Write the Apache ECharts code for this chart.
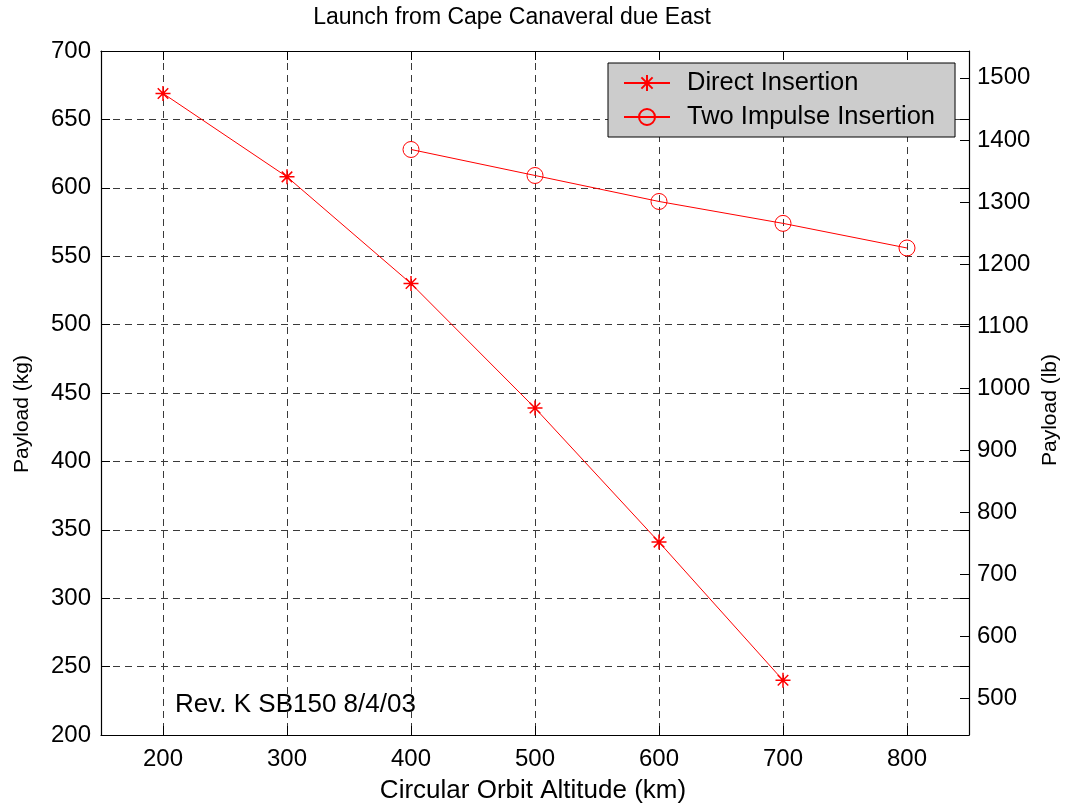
<!DOCTYPE html>
<html>
<head>
<meta charset="utf-8">
<title>Launch from Cape Canaveral due East</title>
<script src="https://cdn.jsdelivr.net/npm/echarts@6/dist/echarts.min.js"></script>
<style>
  html, body { margin: 0; padding: 0; background: #ffffff; }
  #chart { width: 1069px; height: 807px; }
</style>
</head>
<body>
<div id="chart"></div>
<script>
// Payload vs. circular orbit altitude
const directAltitudes = [200, 300, 400, 500, 600, 700];           // km
const directPayload = [669, 608, 530, 439, 341, 240];             // kg
const twoImpulseAltitudes = [400, 500, 600, 700, 800];            // km
const twoImpulsePayload = [628, 609, 590, 574, 556];              // kg
const seriesNames = ['Direct Insertion', 'Two Impulse Insertion'];

const KG_TO_LB = 2.2046226;
const kgMin = 200, kgMax = 700;
const FONT = '"Liberation Sans", Arial, Helvetica, sans-serif';
const GRID_COLOR = '#3a3a3a';
const GRID_DASH = [7, 5];

const pairs = (xs, ys) => xs.map((x, i) => [x, ys[i]]);

// eight-armed asterisk marker
const STAR = 'path://M0,-10L0,10M-10,0L10,0M-7,-7L7,7M-7,7L7,-7';

const chart = echarts.init(document.getElementById('chart'), null, { renderer: 'canvas' });

const axisLine = { show: true, lineStyle: { color: '#000', width: 1.2 } };
const tickIn = { show: true, inside: true, length: 9, lineStyle: { color: '#000', width: 1 } };
const labelStyle = { color: '#000', fontFamily: FONT, fontSize: 24 };
const plain = v => String(Math.round(v));

chart.setOption({
  backgroundColor: '#ffffff',
  animation: false,
  textStyle: { fontFamily: FONT },
  grid: { left: 101, right: 100, top: 51, bottom: 72, containLabel: false },
  legend: {
    data: seriesNames,
    orient: 'vertical',
    left: 608,
    top: 63,
    backgroundColor: '#cccccc',
    borderColor: '#000',
    borderWidth: 1,
    borderRadius: 0,
    padding: [7, 20, 7, 15],
    itemGap: 8,
    itemWidth: 46,
    itemHeight: 20,
    textStyle: { color: '#000', fontFamily: FONT, fontSize: 25.5, padding: [0, 0, 0, 12] }
  },
  xAxis: [
    {
      type: 'value', position: 'bottom',
      min: 150, max: 850, minInterval: 100, maxInterval: 100,
      axisLine, axisTick: tickIn,
      axisLabel: Object.assign({ margin: 12, showMinLabel: false, showMaxLabel: false, formatter: plain }, labelStyle),
      splitLine: { show: true, lineStyle: { color: GRID_COLOR, type: GRID_DASH, width: 1 } }
    },
    {
      type: 'value', position: 'top',
      min: 150, max: 850, minInterval: 100, maxInterval: 100,
      axisLine, axisTick: tickIn,
      axisLabel: { show: false }, splitLine: { show: false }
    }
  ],
  yAxis: [
    {
      type: 'value', position: 'left',
      min: kgMin, max: kgMax, interval: 50,
      axisLine, axisTick: tickIn,
      axisLabel: Object.assign({ margin: 10, formatter: plain }, labelStyle),
      splitLine: { show: true, lineStyle: { color: GRID_COLOR, type: GRID_DASH, width: 1 } }
    },
    {
      type: 'value', position: 'right',
      min: kgMin * KG_TO_LB, max: kgMax * KG_TO_LB, minInterval: 100, maxInterval: 100,
      axisLine, axisTick: tickIn,
      axisLabel: Object.assign({ margin: 8, showMinLabel: false, showMaxLabel: false, formatter: plain }, labelStyle),
      splitLine: { show: false }
    },
    {
      type: 'value', position: 'right', offset: 0,
      min: kgMin, max: kgMax, interval: 50,
      axisLine: { show: false }, axisTick: tickIn,
      axisLabel: { show: false }, splitLine: { show: false }
    }
  ],
  series: [
    {
      name: seriesNames[0],
      type: 'line',
      xAxisIndex: 0, yAxisIndex: 0,
      data: pairs(directAltitudes, directPayload),
      symbol: STAR, symbolSize: 15, symbolKeepAspect: true,
      showAllSymbol: true,
      lineStyle: { color: '#ff0000', width: 1 },
      itemStyle: { color: 'none', borderColor: '#ff0000', borderWidth: 1.5 },
      emphasis: { disabled: true }
    },
    {
      name: seriesNames[1],
      type: 'line',
      xAxisIndex: 0, yAxisIndex: 0,
      data: pairs(twoImpulseAltitudes, twoImpulsePayload),
      symbol: 'circle', symbolSize: 16,
      showAllSymbol: true,
      lineStyle: { color: '#ff0000', width: 1 },
      itemStyle: { color: 'none', borderColor: '#ff0000', borderWidth: 1 },
      emphasis: { disabled: true }
    }
  ],
  graphic: [
    {
      type: 'text', x: 512, y: 18,
      style: { text: 'Launch from Cape Canaveral due East', fontFamily: FONT, fontSize: 23,
               fill: '#000', align: 'center', verticalAlign: 'middle' }
    },
    {
      type: 'text', x: 533, y: 791,
      style: { text: 'Circular Orbit Altitude (km)', fontFamily: FONT, fontSize: 26,
               fill: '#000', align: 'center', verticalAlign: 'middle' }
    },
    {
      type: 'text', x: 22, y: 414, rotation: Math.PI / 2,
      style: { text: 'Payload (kg)', fontFamily: FONT, fontSize: 21,
               fill: '#000', align: 'center', verticalAlign: 'middle' }
    },
    {
      type: 'text', x: 1050, y: 410, rotation: Math.PI / 2,
      style: { text: 'Payload (lb)', fontFamily: FONT, fontSize: 21,
               fill: '#000', align: 'center', verticalAlign: 'middle' }
    },
    {
      type: 'text', x: 175, y: 705,
      style: { text: 'Rev. K SB150 8/4/03', fontFamily: FONT, fontSize: 26,
               fill: '#000', align: 'left', verticalAlign: 'middle' }
    }
  ]
});
</script>
</body>
</html>
